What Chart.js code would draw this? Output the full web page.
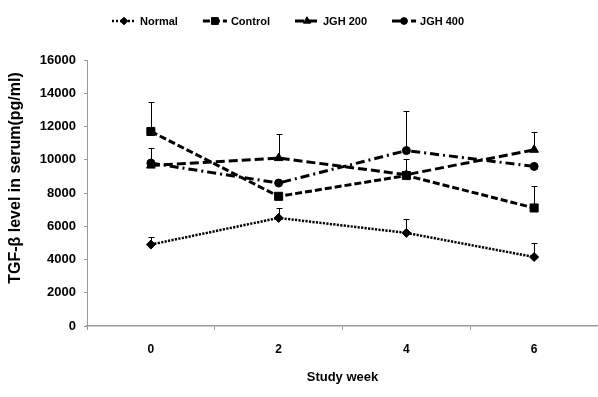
<!DOCTYPE html>
<html>
<head>
<meta charset="utf-8">
<script src="https://cdn.jsdelivr.net/npm/chart.js@4"></script>
<style>
  html, body { margin: 0; padding: 0; background: #fff; }
  #wrap { width: 598px; height: 397px; }
  canvas { display: block; }
</style>
</head>
<body>
<div id="wrap"><canvas id="c" width="598" height="397"></canvas></div>
<script>
// Study weeks and TGF-beta serum levels (pg/ml), mean with upper SD bars
const weeks = ['0', '2', '4', '6'];

const normal     = [4900, 6500, 5600, 4150];
const normalErr  = [450, 600, 850, 850];

const control    = [11700, 7800, 9050, 7100];
const controlErr = [1800, null, 1000, 1300];

const jgh200     = [9650, 10100, 9100, 10600];
const jgh200Err  = [1050, 1450, null, 1050];

const jgh400     = [9800, 8600, 10550, 9600];
const jgh400Err  = [null, null, 2400, null];

const yMin = 0, yMax = 16000, yStep = 2000;
const yTitle = 'TGF-β level in serum(pg/ml)';
const xTitle = 'Study week';

const FONT = '"Liberation Sans", Arial, Helvetica, sans-serif';
const AXIS_GREY = '#9a9a9a';

// Upward-only error bars with a small cap
const errorBarPlugin = {
  id: 'errorBars',
  beforeDatasetsDraw(chart) {
    const ctx = chart.ctx;
    const yScale = chart.scales.y;
    ctx.save();
    ctx.strokeStyle = '#000';
    ctx.lineWidth = 1;
    chart.data.datasets.forEach((ds, di) => {
      const errs = ds.errorBars;
      if (!errs) return;
      const meta = chart.getDatasetMeta(di);
      meta.data.forEach((pt, i) => {
        const e = errs[i];
        if (e == null) return;
        const x = Math.round(pt.x) + 0.5;
        const y0 = yScale.getPixelForValue(ds.data[i]);
        const y1 = Math.round(yScale.getPixelForValue(ds.data[i] + e)) + 0.5;
        ctx.beginPath();
        ctx.moveTo(x, y0);
        ctx.lineTo(x, y1);
        ctx.moveTo(x - 3, y1);
        ctx.lineTo(x + 3, y1);
        ctx.stroke();
      });
    });
    ctx.restore();
  }
};

// Rotated value-axis title, sitting a little above the plot's vertical centre
const yTitlePlugin = {
  id: 'yTitle',
  afterDraw(chart, args, opts) {
    const ctx = chart.ctx;
    ctx.save();
    ctx.translate(opts.x, opts.y);
    ctx.rotate(-Math.PI / 2);
    ctx.font = 'bold 16px ' + FONT;
    ctx.fillStyle = '#000';
    ctx.textAlign = 'center';
    ctx.textBaseline = 'middle';
    ctx.fillText(opts.text, 0, 0);
    ctx.restore();
  }
};

// Legend row: line sample in each series' dash pattern, marker in the middle, label to the right
const lineLegendPlugin = {
  id: 'lineLegend',
  afterDraw(chart, args, opts) {
    const ctx = chart.ctx;
    const sample = 24, textGap = 4, itemGap = 25;
    let x = opts.x;
    const y = opts.y;
    ctx.save();
    ctx.font = 'bold 11px ' + FONT;
    ctx.textBaseline = 'middle';
    ctx.textAlign = 'left';
    chart.data.datasets.forEach(ds => {
      ctx.save();
      ctx.strokeStyle = ds.borderColor;
      ctx.lineWidth = ds.borderWidth;
      ctx.setLineDash(ds.legendDash || ds.borderDash || []);
      ctx.beginPath();
      ctx.moveTo(x, y);
      ctx.lineTo(x + sample, y);
      ctx.stroke();
      ctx.restore();
      ctx.save();
      ctx.fillStyle = ds.pointBackgroundColor;
      ctx.strokeStyle = ds.pointBorderColor;
      Chart.helpers.drawPoint(ctx, {
        pointStyle: ds.pointStyle,
        radius: ds.pointRadius * 0.85,
        borderWidth: 1,
        rotation: 0
      }, x + sample / 2, y);
      ctx.restore();
      ctx.fillStyle = '#000';
      ctx.fillText(ds.label, x + sample + textGap, y + 0.5);
      x += sample + textGap + ctx.measureText(ds.label).width + itemGap;
    });
    ctx.restore();
  }
};

const tickFont = { family: FONT, size: 12, weight: 'bold' };
const yTickFont = { family: FONT, size: 13, weight: 'bold' };
const xTitleFont = { family: FONT, size: 13, weight: 'bold' };

new Chart(document.getElementById('c'), {
  type: 'line',
  data: {
    labels: weeks,
    datasets: [
      {
        label: 'Normal',
        data: normal,
        errorBars: normalErr,
        borderColor: '#000',
        borderWidth: 2.5,
        borderDash: [2.2, 1.3],
        legendDash: [2, 2],
        pointStyle: 'rectRot',
        pointRadius: 4.5,
        pointBackgroundColor: '#000',
        pointBorderColor: '#000',
        pointBorderWidth: 1,
        tension: 0
      },
      {
        label: 'Control',
        data: control,
        errorBars: controlErr,
        borderColor: '#000',
        borderWidth: 3,
        borderDash: [7, 3],
        legendDash: [7, 3],
        pointStyle: 'rect',
        pointRadius: 5.7,
        pointBackgroundColor: '#000',
        pointBorderColor: '#000',
        pointBorderWidth: 1,
        tension: 0
      },
      {
        label: 'JGH 200',
        data: jgh200,
        errorBars: jgh200Err,
        borderColor: '#000',
        borderWidth: 3,
        borderDash: [9, 4],
        legendDash: [9, 4],
        pointStyle: 'triangle',
        pointRadius: 5,
        pointBackgroundColor: '#000',
        pointBorderColor: '#000',
        pointBorderWidth: 1,
        tension: 0
      },
      {
        label: 'JGH 400',
        data: jgh400,
        errorBars: jgh400Err,
        borderColor: '#000',
        borderWidth: 3,
        borderDash: [9, 4, 2, 4],
        legendDash: [9, 4, 2, 4],
        pointStyle: 'circle',
        pointRadius: 4,
        pointBackgroundColor: '#000',
        pointBorderColor: '#000',
        pointBorderWidth: 1,
        tension: 0
      }
    ]
  },
  options: {
    responsive: false,
    animation: false,
    devicePixelRatio: 1,
    layout: { autoPadding: false, padding: { top: 60, right: 0, left: 0, bottom: 0 } },
    plugins: {
      legend: { display: false },
      tooltip: { enabled: false },
      lineLegend: { x: 112, y: 21 },
      yTitle: { text: yTitle, x: 16, y: 178 }
    },
    scales: {
      x: {
        type: 'category',
        offset: true,
        grid: {
          offset: true,
          drawOnChartArea: false,
          drawTicks: true,
          tickLength: 4,
          color: AXIS_GREY
        },
        border: { color: AXIS_GREY, width: 1.5 },
        ticks: { color: '#000', font: tickFont, padding: 12 },
        title: {
          display: true,
          text: xTitle,
          color: '#000',
          font: xTitleFont,
          padding: { top: 0, bottom: 12 }
        },
        afterFit(scale) { scale.height = 71; }
      },
      y: {
        min: yMin,
        max: yMax,
        grid: {
          drawOnChartArea: false,
          drawTicks: true,
          tickLength: 3,
          color: AXIS_GREY
        },
        border: { color: AXIS_GREY, width: 1 },
        ticks: {
          stepSize: yStep,
          color: '#000',
          font: yTickFont,
          padding: 8,
          callback: v => String(v)
        },
        title: { display: false },
        afterFit(scale) { scale.width = 87; }
      }
    }
  },
  plugins: [errorBarPlugin, yTitlePlugin, lineLegendPlugin]
});
</script>
</body>
</html>
